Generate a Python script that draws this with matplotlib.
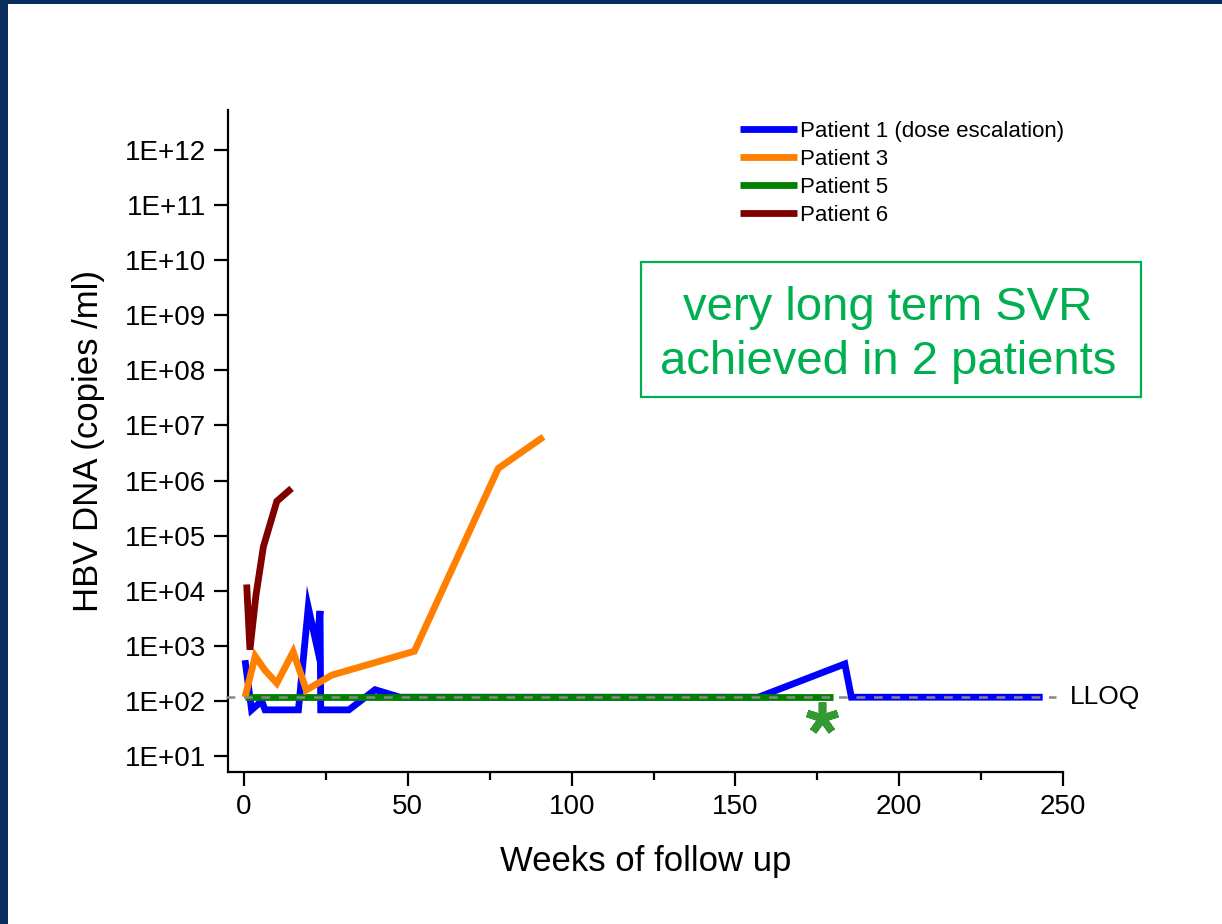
import math
import matplotlib
matplotlib.use("Agg")
import matplotlib.pyplot as plt
from matplotlib.patches import Rectangle
from matplotlib.ticker import FixedLocator, FuncFormatter, MultipleLocator

plt.rcParams['font.family'] = ['Liberation Sans', 'DejaVu Sans']

# ==== Dados (semanas de seguimento / HBV DNA copies/ml) ====
LLOQ = 117

weeks_p1 = [0.3, 2.3, 5.4, 6.4, 16.6, 19.6, 22.2, 23.2, 23.4, 32, 40, 47.6, 157, 183.4, 185.4, 243.8]
dna_p1 = [550, 69, 100, 69, 69, 5000, 1000, 4300, 69, 69, 160, 117, 117, 470, 117, 117]

weeks_p3 = [0.3, 3.4, 6.4, 10, 15, 19, 26.8, 52, 77.6, 91.4]
dna_p3 = [117, 650, 360, 210, 780, 158, 295, 800, 1.66e6, 6.2e6]

weeks_p5 = [0.3, 179.8]
dna_p5 = [117, 117]

weeks_p6 = [0.8, 1.8, 3.6, 5.9, 10, 14.5]
dna_p6 = [1.3e4, 850, 8000, 6.3e4, 4.2e5, 7.2e5]

labels = ["Patient 1 (dose escalation)", "Patient 3", "Patient 5", "Patient 6"]
cores = ["#0000ff", "#ff8000", "#008000", "#800000"]

star_week, star_dna = 176.3, 49   # asterisco verde

# ==== Figura ====
fig = plt.figure(figsize=(12.22, 9.24), dpi=100)
ax = fig.add_axes([228 / 1222, 1 - 772 / 924, 835 / 1222, 662 / 924])

estilo = dict(lw=4.9, solid_joinstyle='miter', solid_capstyle='butt')
l1, = ax.plot(weeks_p1, dna_p1, color=cores[0], zorder=2, **estilo)
l3, = ax.plot(weeks_p3, dna_p3, color=cores[1], zorder=4, **estilo)
l5, = ax.plot(weeks_p5, dna_p5, color=cores[2], zorder=3, **estilo)
l6, = ax.plot(weeks_p6, dna_p6, color=cores[3], zorder=5, **estilo)

# linha LLOQ
ax.plot([-5.5, 248], [LLOQ, LLOQ], color='#888888', lw=1.8, dashes=(3.5, 3.5),
        zorder=6, clip_on=False)
ax.text(252, LLOQ, "LLOQ", fontsize=19, va='center', ha='left')

ax.plot([star_week], [star_dna], marker=(5, 2, 0), ms=23, mew=5.5,
        color='#339933', ls='none', zorder=7, clip_on=False)

ax.set_yscale('log')
ax.set_xlim(-4.9, 250)
ax.set_ylim(5.14, 5.3e12)

ax.yaxis.set_major_locator(FixedLocator([10.0 ** e for e in range(1, 13)]))
ax.yaxis.set_minor_locator(FixedLocator([]))
ax.yaxis.set_major_formatter(FuncFormatter(lambda v, p: "1E+%02d" % round(math.log10(v))))
ax.xaxis.set_major_locator(MultipleLocator(50))
ax.xaxis.set_minor_locator(MultipleLocator(25))

for s in ['top', 'right']:
    ax.spines[s].set_visible(False)
for s in ['left', 'bottom']:
    ax.spines[s].set_linewidth(1.6)

ax.tick_params(axis='both', which='major', direction='out', length=10, width=1.6,
               labelsize=20, pad=6)
ax.tick_params(axis='x', which='minor', direction='out', length=6, width=1.6)

ax.set_xlabel("Weeks of follow up", fontsize=25, labelpad=18)
ax.set_ylabel("HBV DNA (copies /ml)", fontsize=25, labelpad=14)

fig.legend([l1, l3, l5, l6], labels, loc='upper left',
           bbox_to_anchor=(740 / 1222, 1 - 121 / 924), frameon=False,
           fontsize=16, handlelength=2.57, handletextpad=0.14, labelspacing=0.31,
           borderpad=0, borderaxespad=0)

# caixa de texto verde
fig.patches.append(Rectangle((641 / 1222, 1 - 397 / 924), 500 / 1222, 135 / 924,
                             transform=fig.transFigure, fill=False,
                             edgecolor='#00b050', lw=1.6))
fig.text(888 / 1222, 1 - 335 / 924, "very long term SVR\nachieved in 2 patients",
         color='#00b050', fontsize=34, ha='center', va='center',
         multialignment='center', linespacing=1.28)

# moldura azul escura
fig.patches.append(Rectangle((0, 0), 8 / 1222, 1, transform=fig.transFigure,
                             color='#0a2d5f', lw=0))
fig.patches.append(Rectangle((0, 1 - 4 / 924), 1, 4 / 924, transform=fig.transFigure,
                             color='#0a2d5f', lw=0))

fig.savefig("out.png", dpi=100)
